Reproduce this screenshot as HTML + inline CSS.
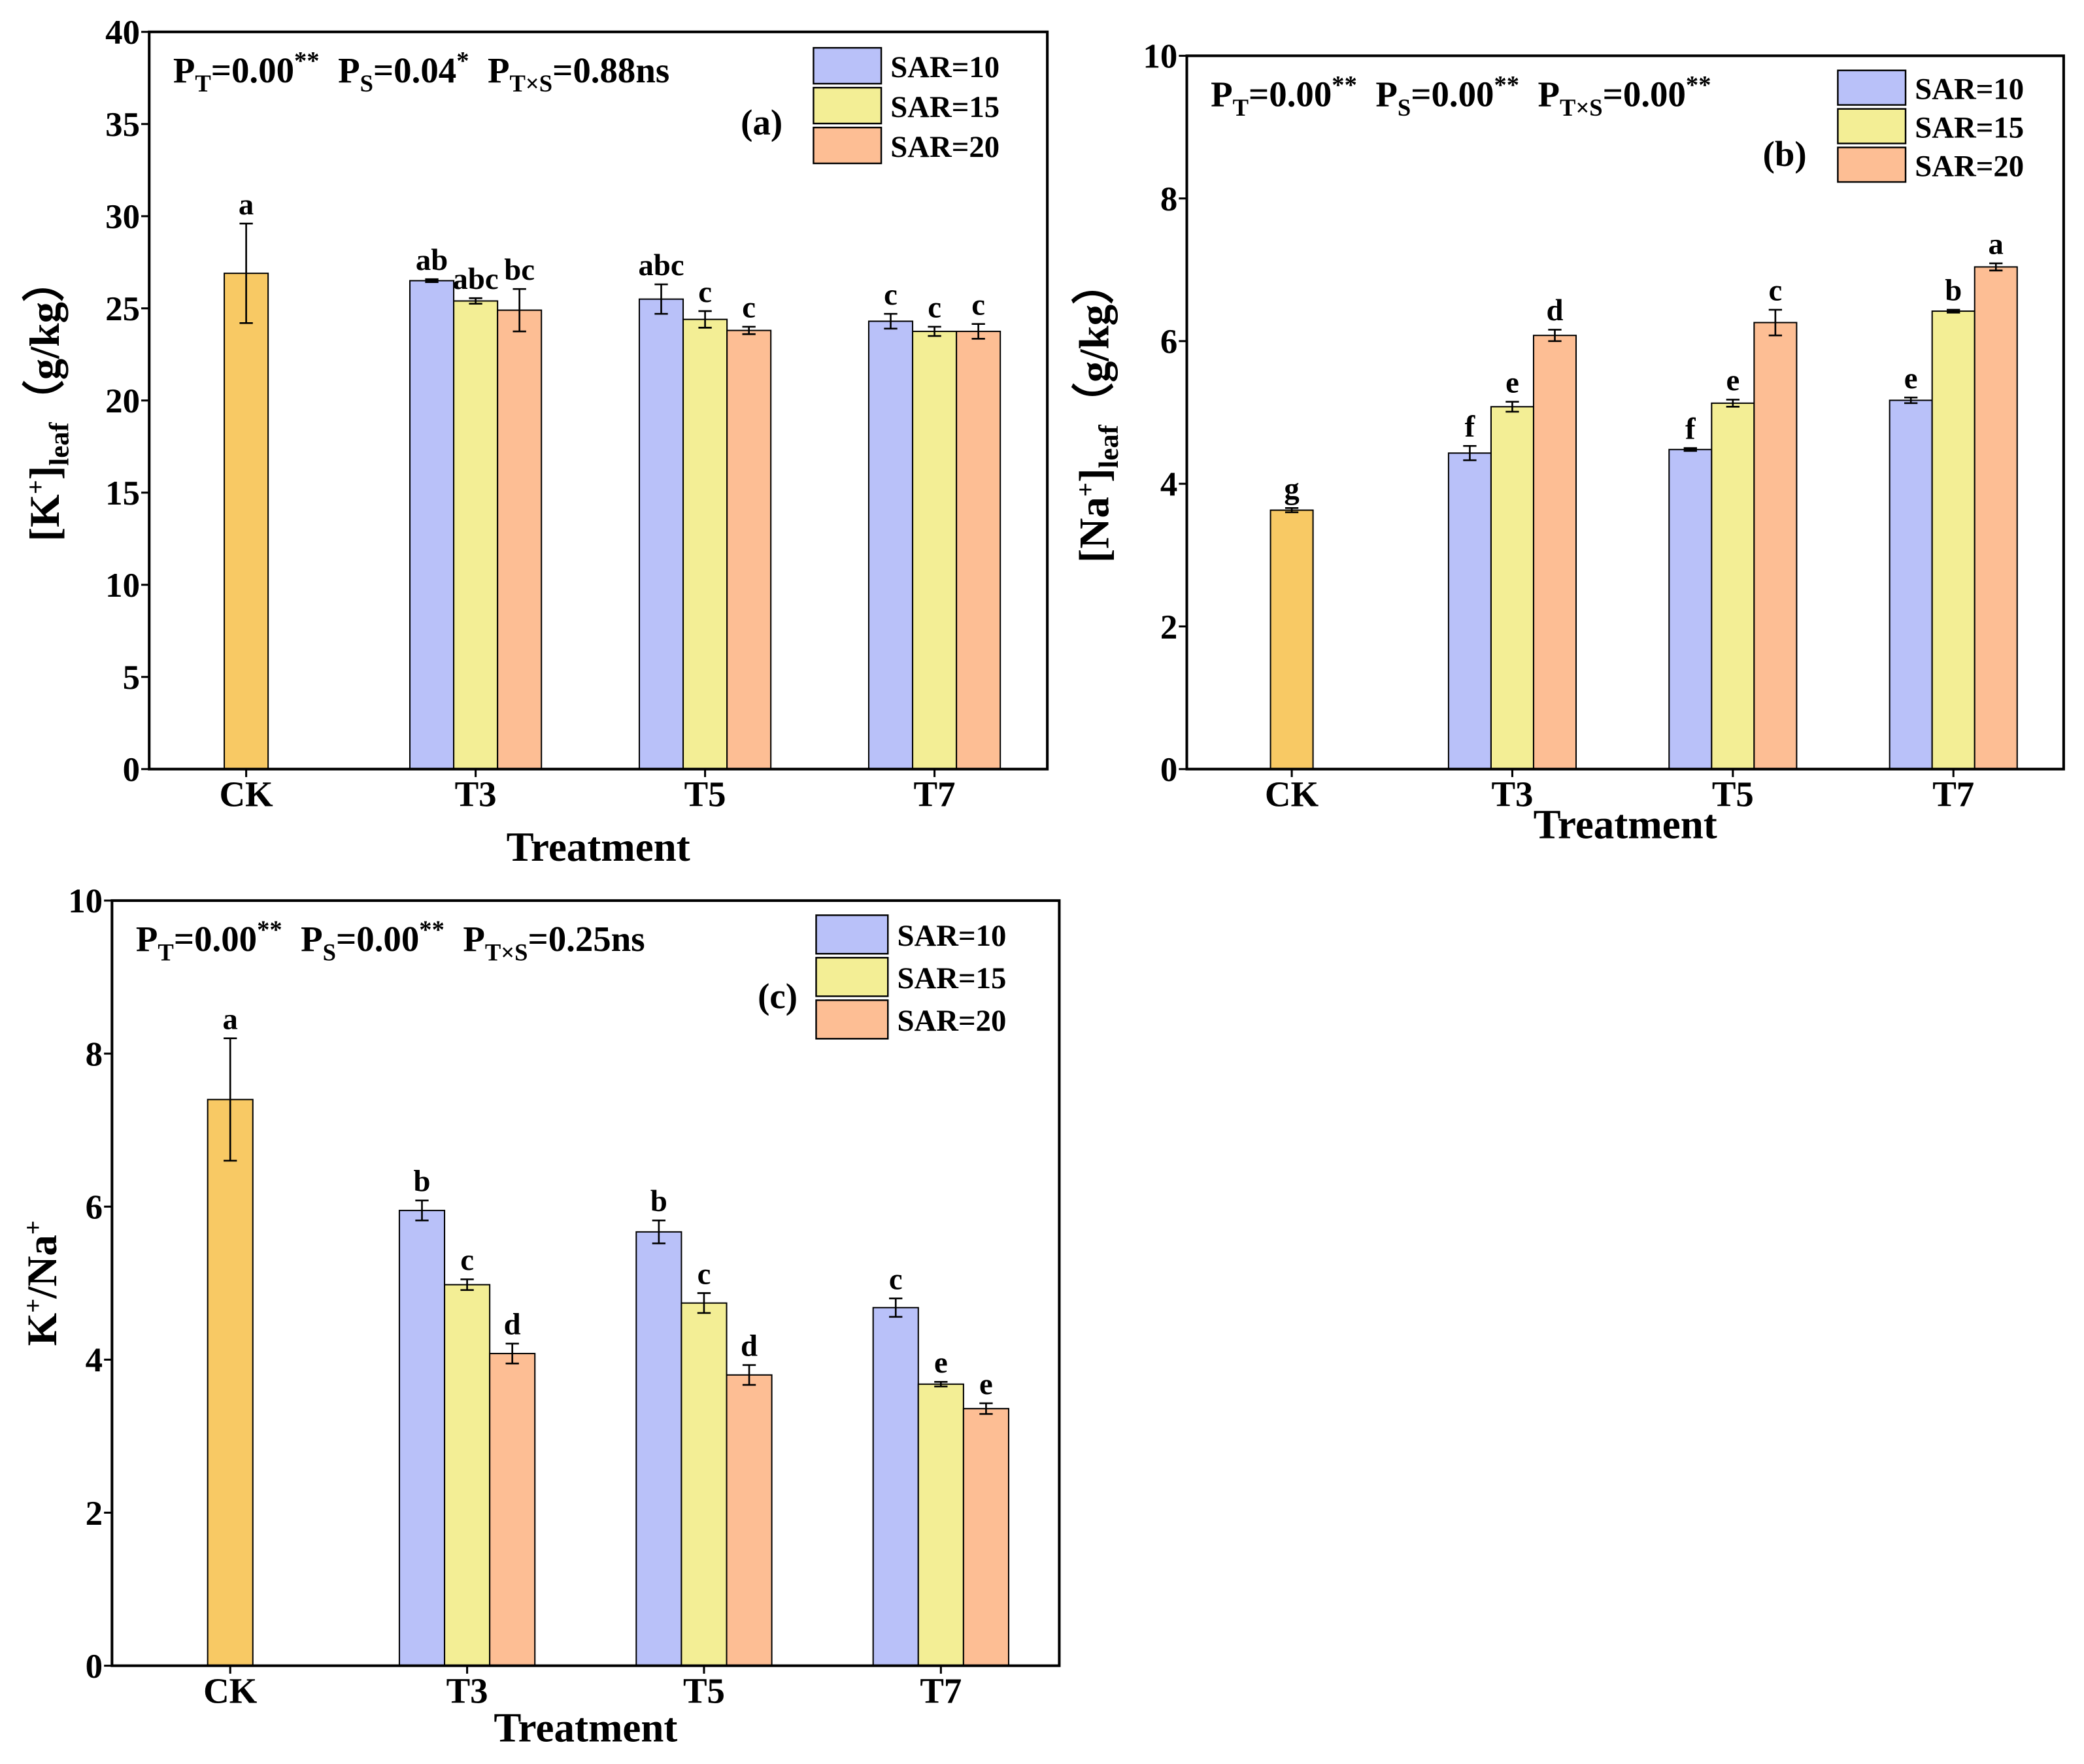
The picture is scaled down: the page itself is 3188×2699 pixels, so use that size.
<!DOCTYPE html>
<html><head><meta charset="utf-8"><style>
html,body{margin:0;padding:0;background:#fff;}
svg{display:block;font-family:"Liberation Serif",serif;font-weight:bold;}
</style></head><body>
<svg id="fig" width="3188" height="2699" viewBox="0 0 1568 1328" xmlns="http://www.w3.org/2000/svg"></svg>
<script>
const categories = ["CK","T3","T5","T7"];
const seriesNames = ["SAR=10","SAR=15","SAR=20"];
// panel a: K+ leaf
const aCK = [26.9], aCKerr = [2.7], aCKlet = ["a"];
const aS10 = [26.5,25.5,24.3], aS10err=[0.08,0.8,0.4], aS10let=["ab","abc","c"];
const aS15 = [25.4,24.4,23.75], aS15err=[0.15,0.45,0.25], aS15let=["abc","c","c"];
const aS20 = [24.9,23.8,23.75], aS20err=[1.15,0.2,0.4], aS20let=["bc","c","c"];
const aTicks = [0,5,10,15,20,25,30,35,40];
// panel b: Na+ leaf
const bCK = [3.63], bCKerr=[0.03], bCKlet=["g"];
const bS10 = [4.43,4.48,5.17], bS10err=[0.1,0.02,0.04], bS10let=["f","f","e"];
const bS15 = [5.08,5.13,6.42], bS15err=[0.07,0.05,0.02], bS15let=["e","e","b"];
const bS20 = [6.08,6.26,7.04], bS20err=[0.08,0.18,0.05], bS20let=["d","c","a"];
const bTicks = [0,2,4,6,8,10];
// panel c: K+/Na+
const cCK = [7.4], cCKerr=[0.8], cCKlet=["a"];
const cS10 = [5.95,5.67,4.68], cS10err=[0.13,0.15,0.12], cS10let=["b","b","c"];
const cS15 = [4.98,4.74,3.68], cS15err=[0.07,0.13,0.03], cS15let=["c","c","e"];
const cS20 = [4.08,3.8,3.36], cS20err=[0.13,0.13,0.07], cS20let=["d","d","e"];
const cTicks = [0,2,4,6,8,10];

const NS="http://www.w3.org/2000/svg";
const svg=document.getElementById('fig');
const colors=["#b9c1f9","#f3ee95","#fdbe94"];
const ckColor="#f8c964";
function mk(tag,attrs,parent){const e=document.createElementNS(NS,tag);for(const k in attrs)e.setAttribute(k,attrs[k]);(parent||svg).appendChild(e);return e;}

function panel(p){
  const g=mk('g',{});
  
  
  const y=v=>p.y1-(v/p.max)*(p.y1-p.y0);
  const cx=i=>p.c0+i*p.step;
  function bar(xl,val,err,let_,col,nm){
    const r=mk('rect',{x:xl,y:y(val),width:p.bw,height:p.y1-y(val),fill:col,stroke:'#000','stroke-width':1},g);
    
    
    const xm=xl+p.bw/2;
    const e=mk('path',{d:`M${xm},${y(val+err)}V${y(val-err)}M${xm-5},${y(val+err)}H${xm+5}M${xm-5},${y(val-err)}H${xm+5}`,stroke:'#000','stroke-width':1.3,fill:'none'},g);
    
    
    const t=mk('text',{x:xm,y:y(val+err)-7,'text-anchor':'middle','font-size':23},g);t.textContent=let_;
    
    
  }
  bar(cx(0)-p.bw/2,p.ck[0],p.ckErr[0],p.ckLet[0],ckColor,'bar-ck');
  for(let i=0;i<3;i++){
    for(let s=0;s<3;s++){
      bar(cx(i+1)-1.5*p.bw+s*p.bw,p.series[s][i],p.errs[s][i],p.lets[s][i],colors[s],'bar-'+categories[i+1].toLowerCase()+'-sar'+(10+5*s));
    }
  }
  const box=mk('rect',{x:p.x0,y:p.y0,width:p.x1-p.x0,height:p.y1-p.y0,fill:'none',stroke:'#000','stroke-width':2},g);
  
  
  p.ticks.forEach(t=>{
    mk('line',{x1:p.x0-6,x2:p.x0,y1:y(t),y2:y(t),stroke:'#000','stroke-width':1.5},g);
    const tl=mk('text',{x:p.x0-7,y:y(t)+9,'text-anchor':'end','font-size':26},g);tl.textContent=t;
    
    
  });
  categories.forEach((c,i)=>{
    mk('line',{x1:cx(i),x2:cx(i),y1:p.y1,y2:p.y1+6,stroke:'#000','stroke-width':1.5},g);
    const tl=mk('text',{x:cx(i),y:p.y1+28,'text-anchor':'middle','font-size':27},g);tl.textContent=c;
    
    
  });
  const xt=mk('text',{x:(p.x0+p.x1)/2,y:p.xtY,'text-anchor':'middle','font-size':31},g);xt.textContent='Treatment';
  
  
  const yt=mk('text',{transform:`translate(${p.ytX},${(p.y0+p.y1)/2}) rotate(-90)`,'text-anchor':'middle','font-size':32},g);
  yt.innerHTML=p.ytitle;
  
  
  const pt=mk('text',{x:p.x0+18,y:p.y0+38,'font-size':27},g);pt.innerHTML=p.ptext;
  
  
  const pl=mk('text',{x:p.plX,y:p.plY,'text-anchor':'middle','font-size':27},g);pl.textContent=p.label;
  
  
  for(let s=0;s<3;s++){
    const ly=p.legY+s*p.legStep;
    const lr=mk('rect',{x:p.legX,y:ly,width:p.legW,height:p.legStep-3,fill:colors[s],stroke:'#000','stroke-width':1.2},g);
    
    
    const lt=mk('text',{x:p.legX+p.legW+7,y:ly+p.legStep/2+7,'font-size':23},g);lt.textContent=seriesNames[s];
    
    
  }
}
function pstr(a,b,c){
  const sub=s=>`<tspan font-size="18" dy="7">${s}</tspan>`;
  const part=(first,s,val)=>`<tspan ${first?'':'dx="16"'} dy="${first?0:-7}">P</tspan>${sub(s)}<tspan dy="-7">${val}</tspan>`;
  return part(true,'T',a).replace('dy="0"','')+part(false,'S',b)+part(false,'T×S',c);
}
const st='<tspan font-size="19" dy="-10">',en='</tspan><tspan dy="17"></tspan>';
panel({name:'panel-a-k-leaf',x0:112,x1:788,y0:24,y1:579,max:40,c0:185,step:172.7,bw:33,
  ck:aCK,ckErr:aCKerr,ckLet:aCKlet,series:[aS10,aS15,aS20],errs:[aS10err,aS15err,aS20err],lets:[aS10let,aS15let,aS20let],ticks:aTicks,
  xtY:648,ytX:44,ytitle:'[K<tspan font-size="19" dy="-11">+</tspan><tspan dy="11">]</tspan><tspan font-size="21" dy="7">leaf</tspan><tspan dy="-7">（g/kg）</tspan>',
  ptext:'<tspan>P</tspan><tspan font-size="18" dy="7">T</tspan><tspan dy="-7">=0.00</tspan><tspan font-size="19" dy="-10">**</tspan><tspan dx="14" dy="10">P</tspan><tspan font-size="18" dy="7">S</tspan><tspan dy="-7">=0.04</tspan><tspan font-size="19" dy="-10">*</tspan><tspan dx="14" dy="10">P</tspan><tspan font-size="18" dy="7">T×S</tspan><tspan dy="-7">=0.88ns</tspan>',
  label:'(a)',plX:573,plY:101,legX:612,legY:36,legStep:30,legW:51});
panel({name:'panel-b-na-leaf',x0:893,x1:1553,y0:42,y1:579,max:10,c0:972,step:166,bw:32,
  ck:bCK,ckErr:bCKerr,ckLet:bCKlet,series:[bS10,bS15,bS20],errs:[bS10err,bS15err,bS20err],lets:[bS10let,bS15let,bS20let],ticks:bTicks,
  xtY:631,ytX:834,ytitle:'[Na<tspan font-size="19" dy="-11">+</tspan><tspan dy="11">]</tspan><tspan font-size="21" dy="7">leaf</tspan><tspan dy="-7">（g/kg）</tspan>',
  ptext:'<tspan>P</tspan><tspan font-size="18" dy="7">T</tspan><tspan dy="-7">=0.00</tspan><tspan font-size="19" dy="-10">**</tspan><tspan dx="14" dy="10">P</tspan><tspan font-size="18" dy="7">S</tspan><tspan dy="-7">=0.00</tspan><tspan font-size="19" dy="-10">**</tspan><tspan dx="14" dy="10">P</tspan><tspan font-size="18" dy="7">T×S</tspan><tspan dy="-7">=0.00</tspan><tspan font-size="19" dy="-10">**</tspan>',
  label:'(b)',plX:1343,plY:125,legX:1383,legY:53,legStep:29,legW:51});
panel({name:'panel-c-k-na-ratio',x0:84,x1:797,y0:678,y1:1254,max:10,c0:173,step:178.3,bw:34,
  ck:cCK,ckErr:cCKerr,ckLet:cCKlet,series:[cS10,cS15,cS20],errs:[cS10err,cS15err,cS20err],lets:[cS10let,cS15let,cS20let],ticks:cTicks,
  xtY:1311,ytX:42,ytitle:'K<tspan font-size="19" dy="-11">+</tspan><tspan dy="11">/Na</tspan><tspan font-size="19" dy="-11">+</tspan>',
  ptext:'<tspan>P</tspan><tspan font-size="18" dy="7">T</tspan><tspan dy="-7">=0.00</tspan><tspan font-size="19" dy="-10">**</tspan><tspan dx="14" dy="10">P</tspan><tspan font-size="18" dy="7">S</tspan><tspan dy="-7">=0.00</tspan><tspan font-size="19" dy="-10">**</tspan><tspan dx="14" dy="10">P</tspan><tspan font-size="18" dy="7">T×S</tspan><tspan dy="-7">=0.25ns</tspan>',
  label:'(c)',plX:585,plY:759,legX:614,legY:689,legStep:32,legW:54});
</script>
</body></html>
